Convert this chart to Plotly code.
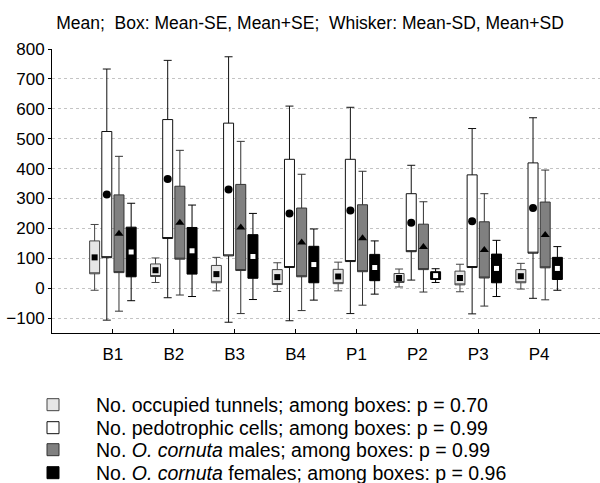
import plotly.graph_objects as go

categories = ["B1", "B2", "B3", "B4", "P1", "P2", "P3", "P4"]

tunnels_mean = [103, 60, 47, 37, 39, 34, 34, 40]
tunnels_se = [55, 21, 29, 25, 24, 15, 23, 22]
tunnels_sd = [110, 41, 56, 48, 48, 30, 46, 43]

cells_mean = [313, 365, 330, 250, 260, 219, 224, 268]
cells_se = [211, 199, 222, 181, 171, 97, 155, 151]
cells_sd = [420, 397, 444, 359, 345, 192, 310, 302]

males_mean = [182, 219, 203, 153, 167, 138, 128, 178]
males_se = [130, 122, 144, 115, 112, 76, 94, 110]
males_sd = [259, 242, 288, 228, 224, 151, 188, 217]

females_mean = [121, 125, 106, 79, 69, 42, 66, 66]
females_se = [83, 78, 73, 61, 44, 13, 48, 37]
females_sd = [163, 153, 144, 119, 89, 23, 94, 73]

series_names = [
    "No. occupied tunnels; among boxes: p = 0.70",
    "No. pedotrophic cells; among boxes: p = 0.99",
    "No. <i>O. cornuta</i> males; among boxes: p = 0.99",
    "No. <i>O. cornuta</i> females; among boxes: p = 0.96",
]
y_ticks = [-100, 0, 100, 200, 300, 400, 500, 600, 700, 800]

FONT = "Liberation Sans, Arial, sans-serif"

series = [
    (series_names[0], tunnels_mean, tunnels_se, tunnels_sd, "#e6e6e6", "#444444", "square", 6, "black"),
    (series_names[1], cells_mean, cells_se, cells_sd, "#ffffff", "#111111", "circle", 8, "black"),
    (series_names[2], males_mean, males_se, males_sd, "#808080", "#333333", "triangle-up", 8, "black"),
    (series_names[3], females_mean, females_se, females_sd, "#000000", "#000000", "square", 5, "white"),
]
legend_ids = ["legend", "legend2", "legend3", "legend4"]
legend_rows = [405, 428, 450, 473]

fig = go.Figure()
for i, (name, m, se, sd, fill, lc, sym, msz, mcol) in enumerate(series):
    q1 = [a - b for a, b in zip(m, se)]
    q3 = [a + b for a, b in zip(m, se)]
    lf = [a - b for a, b in zip(m, sd)]
    uf = [a + b for a, b in zip(m, sd)]
    fig.add_trace(go.Box(
        x=categories, q1=q1, median=q1, q3=q3, lowerfence=lf, upperfence=uf,
        name=name, fillcolor=fill, line=dict(color=lc, width=1),
        whiskerwidth=0.8, boxpoints=False, offsetgroup=str(i),
        legendgroup=str(i), legend=legend_ids[i], hoverinfo="skip",
    ))
for i, (name, m, se, sd, fill, lc, sym, msz, mcol) in enumerate(series):
    fig.add_trace(go.Scatter(
        x=categories, y=m, mode="markers", offsetgroup=str(i),
        marker=dict(symbol=sym, size=msz, color=mcol, line=dict(width=0)),
        showlegend=False, legendgroup=str(i), hoverinfo="skip",
    ))

legends = {}
for lid, row in zip(legend_ids, legend_rows):
    legends[lid] = dict(
        orientation="v", x=10 / 600, xanchor="left", xref="container",
        y=1 - row / 483, yanchor="middle", yref="container",
        itemwidth=76, font=dict(family=FONT, size=19.5, color="black"),
        bgcolor="rgba(0,0,0,0)", itemclick=False, itemdoubleclick=False,
    )

fig.update_layout(
    width=600, height=483,
    paper_bgcolor="white", plot_bgcolor="white",
    margin=dict(l=52, r=0, t=49, b=150, autoexpand=False),
    boxmode="group", scattermode="group",
    boxgap=0.2, boxgroupgap=0.18, scattergap=0.2,
    font=dict(family=FONT, size=17, color="black"),
    title=dict(
        text="Mean;  Box: Mean-SE, Mean+SE;  Whisker: Mean-SD, Mean+SD",
        font=dict(family=FONT, size=17.5, color="black"),
        x=310 / 600, xanchor="center", xref="container",
        y=1 - 23 / 483, yanchor="middle", yref="container",
    ),
    xaxis=dict(
        type="category", categoryorder="array", categoryarray=categories,
        range=[-1, 8], showgrid=False, zeroline=False,
        showline=True, linecolor="black", linewidth=1, mirror=False,
        ticks="inside", ticklen=4, tickcolor="black",
        tickfont=dict(size=17), ticklabelstandoff=6,
    ),
    xaxis2=dict(
        overlaying="x", side="top", anchor="y", type="linear",
        range=[-1, 8], tickvals=list(range(len(categories))),
        showticklabels=False, showgrid=False, zeroline=False,
        showline=True, linecolor="#6e6e6e", linewidth=2,
        ticks="inside", ticklen=4, tickcolor="#333333",
    ),
    yaxis=dict(
        range=[-150, 800], tickvals=y_ticks, showgrid=True,
        gridcolor="#c4c4c4", griddash="dot", gridwidth=1, zeroline=False,
        showline=True, linecolor="black", linewidth=1, mirror="ticks",
        ticks="outside", ticklen=3, tickcolor="black",
        tickfont=dict(size=17),
    ),
    **legends,
)

fig.write_html(
    "out.html",
    config={"displayModeBar": False},
    post_script="document.body.style.margin='0';document.body.style.padding='0';",
)
